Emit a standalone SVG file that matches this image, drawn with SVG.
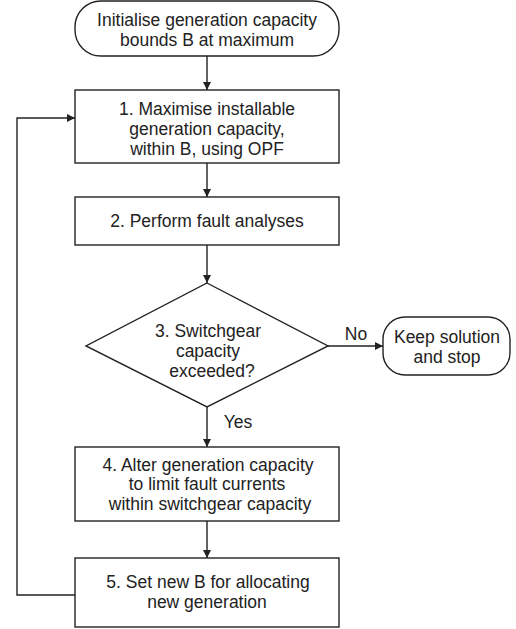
<svg xmlns="http://www.w3.org/2000/svg" width="516" height="629" viewBox="0 0 516 629">
<style>
.n{fill:#fff;stroke:#222;stroke-width:1.4}
.t{font-family:"Liberation Sans",Arial,sans-serif;font-size:17.5px;fill:#222;text-anchor:middle}
.c{fill:none;stroke:#222;stroke-width:1.4}
</style>
<defs>
<marker id="a" viewBox="0 0 10 10" refX="10" refY="5" markerWidth="8" markerHeight="8" markerUnits="userSpaceOnUse" orient="auto">
<path d="M0,0 L10,5 L0,10 z" fill="#222"/>
</marker>
</defs>
<rect width="516" height="629" fill="#fff"/>
<g id="connectors">
<line class="c" x1="207" y1="56" x2="207" y2="90" marker-end="url(#a)"/>
<line class="c" x1="207" y1="163" x2="207" y2="197" marker-end="url(#a)"/>
<line class="c" x1="207" y1="245" x2="207" y2="283" marker-end="url(#a)"/>
<line class="c" x1="328" y1="346" x2="383" y2="346" marker-end="url(#a)"/>
<line class="c" x1="207" y1="407" x2="207" y2="447" marker-end="url(#a)"/>
<line class="c" x1="207" y1="521" x2="207" y2="558" marker-end="url(#a)"/>
<polyline class="c" points="75,595 17,595 17,118 75,118" marker-end="url(#a)"/>
<text class="t" x="356" y="340">No</text>
<text class="t" x="238" y="428">Yes</text>
</g>
<g id="start">
<rect class="n" x="75" y="1" width="264" height="55" rx="26" ry="26"/>
<text class="t" x="207" y="26">Initialise generation capacity</text>
<text class="t" x="207" y="46">bounds B at maximum</text>
</g>
<g id="step1">
<rect class="n" x="75" y="90" width="264" height="73"/>
<text class="t" x="207" y="115">1. Maximise installable</text>
<text class="t" x="207" y="135">generation capacity,</text>
<text class="t" x="207" y="155">within B, using OPF</text>
</g>
<g id="step2">
<rect class="n" x="75" y="197" width="264" height="48"/>
<text class="t" x="207" y="227">2. Perform fault analyses</text>
</g>
<g id="step3">
<polygon class="n" points="207,283 328,346 207,407 86,346"/>
<text class="t" x="208" y="337">3. Switchgear</text>
<text class="t" x="208" y="357">capacity</text>
<text class="t" x="212" y="377">exceeded?</text>
</g>
<g id="stop">
<rect class="n" x="383" y="317" width="127" height="58" rx="22" ry="22"/>
<text class="t" x="447" y="343">Keep solution</text>
<text class="t" x="447" y="363">and stop</text>
</g>
<g id="step4">
<rect class="n" x="75" y="447" width="264" height="74"/>
<text class="t" x="208" y="471">4. Alter generation capacity</text>
<text class="t" x="207" y="490">to limit fault currents</text>
<text class="t" x="210" y="510">within switchgear capacity</text>
</g>
<g id="step5">
<rect class="n" x="75" y="558" width="264" height="69"/>
<text class="t" x="208" y="588">5. Set new B for allocating</text>
<text class="t" x="207" y="608">new generation</text>
</g>
</svg>
